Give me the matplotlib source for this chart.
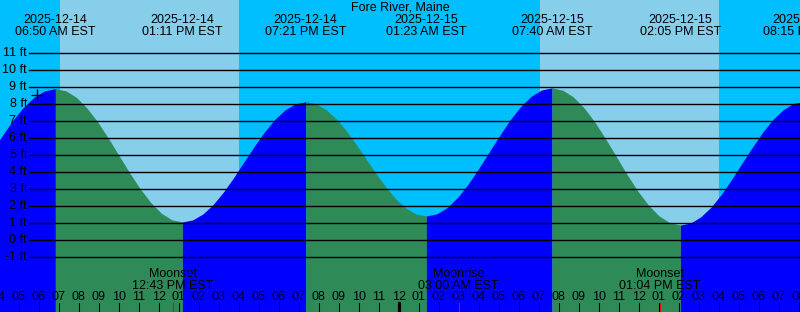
import numpy as np
import matplotlib
matplotlib.use("Agg")
from matplotlib import pyplot as plt
from matplotlib import transforms

plt.rcParams['font.family'] = ['Liberation Sans', 'DejaVu Sans']

# hours are counted from 2025-12-14 00:00 EST
station = "Fore River, Maine"

tide_hours = [3.583, 4.125, 4.667, 5.208, 5.750, 6.292, 6.833,
              7.363, 7.892, 8.421, 8.950, 9.479, 10.008, 10.537, 11.067, 11.596, 12.125, 12.654, 13.183,
              13.697, 14.211, 14.725, 15.239, 15.753, 16.267, 16.781, 17.294, 17.808, 18.322, 18.836, 19.350,
              19.853, 20.356, 20.858, 21.361, 21.864, 22.367, 22.869, 23.372, 23.875, 24.378, 24.881, 25.383,
              25.907, 26.431, 26.954, 27.478, 28.001, 28.525, 29.049, 29.572, 30.096, 30.620, 31.143, 31.667,
              32.201, 32.736, 33.271, 33.806, 34.340, 34.875, 35.410, 35.945, 36.479, 37.014, 37.549, 38.083,
              38.597, 39.111, 39.625, 40.139, 40.653, 41.167, 41.681, 42.194, 42.708, 43.222, 43.736, 44.250]
tide_ft = [5.05, 6.05, 6.98, 7.77, 8.38, 8.77, 8.90,
           8.77, 8.38, 7.75, 6.95, 6.00, 4.99, 3.98, 3.04, 2.23, 1.60, 1.21, 1.08,
           1.20, 1.55, 2.11, 2.84, 3.69, 4.61, 5.52, 6.37, 7.10, 7.66, 8.01, 8.13,
           8.02, 7.68, 7.15, 6.46, 5.65, 4.78, 3.91, 3.11, 2.41, 1.88, 1.54, 1.43,
           1.56, 1.93, 2.53, 3.31, 4.22, 5.19, 6.16, 7.07, 7.85, 8.45, 8.82, 8.95,
           8.81, 8.41, 7.77, 6.94, 5.97, 4.93, 3.88, 2.91, 2.08, 1.44, 1.04, 0.90,
           1.02, 1.39, 1.96, 2.71, 3.59, 4.53, 5.46, 6.34, 7.09, 7.66, 8.03, 8.15]

# high / low tide events
event_hours = [6.833, 13.183, 19.350, 25.383, 31.667, 38.083, 44.250]
event_dates = ["2025-12-14", "2025-12-14", "2025-12-14", "2025-12-15",
               "2025-12-15", "2025-12-15", "2025-12-15"]
event_times = ["06:50 AM EST", "01:11 PM EST", "07:21 PM EST", "01:23 AM EST",
               "07:40 AM EST", "02:05 PM EST", "08:15 PM EST"]

moon_hours = [12.717, 27.0, 37.067]
moon_names = ["Moonset", "Moonrise", "Moonset"]
moon_times = ["12:43 PM EST", "03:00 AM EST", "01:04 PM EST"]

sunrise_hours = [7.065, 31.07]
sunset_hours = [16.03, 40.02]

grid_ft = list(range(-1, 12))
now_hour, now_ft = 5.915, 8.55

night_col = '#00bfff'
day_col = '#87ceeb'
rise_col = '#0000ff'
fall_col = '#2e8b57'

x0, x1 = 4.065, 44.065
y0, y1 = -4.2, 14.1

fig = plt.figure(figsize=(8, 3.12), dpi=100)
ax = fig.add_axes([0, 0, 1, 1])
ax.set_xlim(x0, x1)
ax.set_ylim(y0, y1)
ax.axis('off')
ax.add_patch(plt.Rectangle((x0, y0), x1 - x0, y1 - y0, color=night_col, zorder=0))

for a, b in zip(sunrise_hours, sunset_hours):
    ax.axvspan(a, b, color=day_col, lw=0, zorder=1)

# water, green while falling and blue while rising
t = np.array(tide_hours)
h = np.array(tide_ft)
d = np.sign(np.diff(h))
start = 0
for i in range(1, len(d) + 1):
    if i == len(d) or d[i] != d[start]:
        seg = slice(start, i + 1)
        col = fall_col if d[start] < 0 else rise_col
        ax.fill_between(t[seg], y0, h[seg], color=col, lw=0, zorder=2)
        start = i

# grid lines and labels
lab_tr = transforms.blended_transform_factory(ax.transAxes, ax.transData)
for g in grid_ft:
    ax.axhline(g, xmin=29 / 800, xmax=1, color='black', lw=1.0, zorder=3)
    ax.text(27 / 800, g, f"{g} ft", transform=lab_tr, ha='right', va='center',
            fontsize=9, zorder=4)

ax.plot(now_hour, now_ft, marker='+', color='black', ms=8, mew=1, zorder=5)

top_tr = transforms.blended_transform_factory(ax.transData, ax.transAxes)
ax.text(0.5, 1 - 7.5 / 312, station, transform=ax.transAxes, ha='center', va='center', fontsize=9)
for eh, ed, et in zip(event_hours, event_dates, event_times):
    ax.text(eh, 1 - 20 / 312, ed, transform=top_tr, ha='center', va='center', fontsize=9)
    ax.text(eh, 1 - 32 / 312, et, transform=top_tr, ha='center', va='center', fontsize=9)

for mh, mn, mt in zip(moon_hours, moon_names, moon_times):
    ax.text(mh, 1 - 274 / 312, mn, transform=top_tr, ha='center', va='center', fontsize=9, zorder=6)
    ax.text(mh, 1 - 286 / 312, mt, transform=top_tr, ha='center', va='center', fontsize=9, zorder=6)

# hour ticks along the bottom
tick_lo = 1 - 303 / 312
for hr in range(4, 45):
    lab = f"{(hr % 12) or 12:02d}"
    ax.text(hr, 1 - 297.5 / 312, lab, transform=top_tr, ha='center', va='center', fontsize=9, zorder=6)
    lw = 3 if hr % 24 == 0 else 1
    ax.plot([hr, hr], [0, tick_lo], transform=top_tr, color='black', lw=lw * 0.75, zorder=6)
for mh in moon_hours:
    ax.plot([mh, mh], [0, tick_lo], transform=top_tr, color='red', lw=0.75, zorder=7)

fig.savefig('out.png', dpi=100)
